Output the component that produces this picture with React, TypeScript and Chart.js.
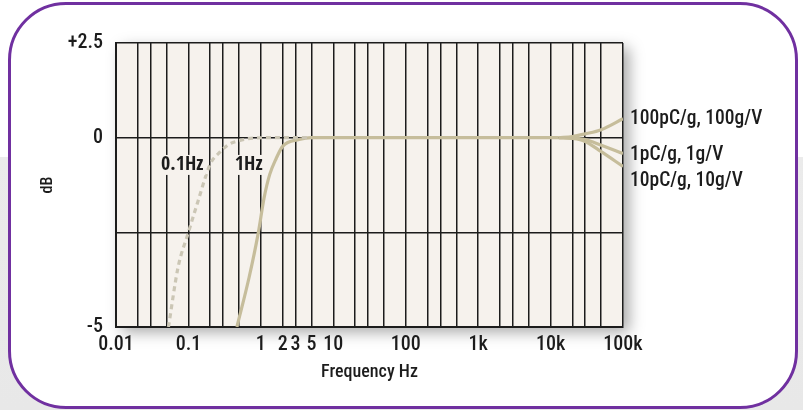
import React, { useEffect, useRef } from 'react';
import { Chart, registerables } from 'chart.js';

Chart.register(...registerables);

const FONT = "'Roboto Condensed', 'Open Sans', sans-serif";
const BOLD_FONT = "'Open Sans Condensed', 'Roboto Condensed', sans-serif";
const INK = '#1c1c1c';

// X axis: log grid lines (1, 2, 3, 5 per decade) and labelled ticks
const xGridValues = [
  0.01, 0.02, 0.03, 0.05, 0.1, 0.2, 0.3, 0.5, 1, 2, 3, 5, 10, 20, 30, 50, 100, 200, 300, 500,
  1000, 2000, 3000, 5000, 10000, 20000, 30000, 50000, 100000,
];
const xLabeledValues = [0.01, 0.1, 1, 2, 3, 5, 10, 100, 1000, 10000, 100000];
const xLabelTexts = ['0.01', '0.1', '1', '2', '3', '5', '10', '100', '1k', '10k', '100k'];

// Y axis
const yTickValues = [-5, -2.5, 0, 2.5];
const yTickLabels = ['-5', '', '0', '+2.5'];

// 0.1 Hz low-frequency cutoff (dashed)
const dashedFreq = [0.053, 0.072, 0.1, 0.136, 0.2, 0.276, 0.36, 0.5, 0.8, 1.5, 5];
const dashedDb = [-5, -3.42, -2.5, -1.67, -0.7, -0.37, -0.18, -0.08, -0.01, 0, 0];

// 1 Hz low-frequency cutoff (solid), flat through the mid band
const solidFreq = [0.467, 0.69, 0.92, 1.108, 1.326, 1.628, 2, 3.37, 5, 100, 13000];
const solidDb = [-5, -3.68, -2.52, -1.59, -0.97, -0.55, -0.23, -0.05, 0, 0, 0];

// High-frequency branches for each sensitivity
const branchFreq = [13000, 20000, 30000, 50000, 100000];
const branch100Db = [0, 0.03, 0.1, 0.21, 0.5];
const branch1Db = [0, -0.01, -0.05, -0.2, -0.42];
const branch10Db = [0, -0.02, -0.1, -0.37, -0.76];

const seriesLabels = ['100pC/g, 100g/V', '1pC/g, 1g/V', '10pC/g, 10g/V'];
const seriesLabelDb = [0.5, -0.45, -1.15];

const cutoffLabels = ['0.1Hz', '1Hz'];
const cutoffLabelFreq = [0.082, 0.68];
const cutoffLabelDb = [-0.72, -0.72];

const toPoints = (xs: number[], ys: number[]) => xs.map((x, i) => ({ x, y: ys[i] }));

const PLOT_BG = '#f6f2ed';
const CURVE = '#c6bd9b';
const CURVE_DASH = '#cbc6b5';

const decorPlugin = {
  id: 'decor',
  beforeDraw(chart: any) {
    const { ctx, chartArea: a } = chart;
    ctx.save();
    ctx.shadowColor = 'rgba(0,0,0,0.35)';
    ctx.shadowBlur = 14;
    ctx.shadowOffsetX = 6;
    ctx.shadowOffsetY = 5;
    ctx.fillStyle = PLOT_BG;
    ctx.fillRect(a.left, a.top, a.right - a.left, a.bottom - a.top);
    ctx.restore();
  },
  afterDatasetsDraw(chart: any) {
    const { ctx, scales } = chart;
    ctx.save();
    ctx.font = `bold 20px ${BOLD_FONT}`;
    ctx.textAlign = 'center';
    ctx.textBaseline = 'middle';
    cutoffLabels.forEach((t, i) => {
      const x = scales.x.getPixelForValue(cutoffLabelFreq[i]);
      const y = scales.y.getPixelForValue(cutoffLabelDb[i]);
      const w = ctx.measureText(t).width;
      ctx.fillStyle = PLOT_BG;
      ctx.fillRect(x - w / 2 - 2, y - 10, w + 4, 20);
      ctx.fillStyle = INK;
      ctx.fillText(t, x, y);
    });
    ctx.restore();
  },
  afterDraw(chart: any) {
    const { ctx, scales, chartArea: a } = chart;
    ctx.save();
    ctx.font = `500 19.5px ${FONT}`;
    ctx.textAlign = 'left';
    ctx.textBaseline = 'middle';
    ctx.fillStyle = INK;
    seriesLabels.forEach((t, i) => {
      ctx.fillText(t, a.right + 7, scales.y.getPixelForValue(seriesLabelDb[i]));
    });
    ctx.restore();
  },
};

export default function App() {
  const ref = useRef<HTMLCanvasElement | null>(null);

  useEffect(() => {
    if (!ref.current) return;
    const lineBase = {
      pointRadius: 0,
      borderWidth: 3.2,
      fill: false,
      cubicInterpolationMode: 'monotone' as const,
    };
    const chart = new Chart(ref.current, {
      type: 'line',
      data: {
        datasets: [
          { ...lineBase, label: '0.1Hz', data: toPoints(dashedFreq, dashedDb), borderColor: CURVE_DASH, borderDash: [5, 4] },
          { ...lineBase, label: '1Hz', data: toPoints(solidFreq, solidDb), borderColor: CURVE },
          { ...lineBase, label: seriesLabels[0], data: toPoints(branchFreq, branch100Db), borderColor: CURVE },
          { ...lineBase, label: seriesLabels[1], data: toPoints(branchFreq, branch1Db), borderColor: CURVE },
          { ...lineBase, label: seriesLabels[2], data: toPoints(branchFreq, branch10Db), borderColor: CURVE },
        ],
      },
      options: {
        responsive: false,
        animation: false,
        devicePixelRatio: window.devicePixelRatio || 1,
        layout: { padding: { left: 38, right: 180, top: 43, bottom: 0 } },
        plugins: { legend: { display: false }, tooltip: { enabled: false } },
        scales: {
          x: {
            type: 'logarithmic',
            min: 0.01,
            max: 100000,
            afterBuildTicks: (s: any) => {
              s.ticks = xGridValues.map((v) => ({ value: v }));
            },
            afterFit: (s: any) => {
              s.height = 83;
            },
            grid: { color: INK, lineWidth: 1.5, drawTicks: false },
            border: { display: true, color: INK, width: 2 },
            ticks: {
              autoSkip: false,
              maxRotation: 0,
              minRotation: 0,
              padding: 6,
              color: INK,
              font: { family: FONT, size: 20, weight: '500' },
              callback: (value: any) => {
                const v = Number(value);
                const idx = xLabeledValues.findIndex((t) => Math.abs(v - t) / t < 1e-6);
                return idx >= 0 ? xLabelTexts[idx] : '';
              },
            },
            title: {
              display: true,
              text: 'Frequency Hz',
              color: INK,
              font: { family: FONT, size: 18, weight: '500' },
              padding: { top: 0, bottom: 27 },
            },
          },
          y: {
            type: 'linear',
            min: -5,
            max: 2.5,
            afterBuildTicks: (s: any) => {
              s.ticks = yTickValues.map((v) => ({ value: v }));
            },
            afterFit: (s: any) => {
              s.width = 78;
            },
            grid: { color: INK, lineWidth: 1.5, drawTicks: false },
            border: { display: true, color: INK, width: 2 },
            ticks: {
              padding: 13,
              color: INK,
              font: { family: FONT, size: 20, weight: '500' },
              callback: (value: any) => {
                const idx = yTickValues.indexOf(Number(value));
                return idx >= 0 ? yTickLabels[idx] : '';
              },
            },
            title: {
              display: true,
              text: 'dB',
              color: INK,
              font: { family: FONT, size: 16, weight: '500' },
              padding: 0,
            },
          },
        },
      },
      plugins: [decorPlugin],
    });
    return () => chart.destroy();
  }, []);

  return (
    <div
      style={{
        position: 'fixed',
        left: 0,
        top: 0,
        width: 803,
        height: 410,
        background: 'linear-gradient(#ffffff 0px, #ffffff 157px, #ebebeb 157px, #e8e8e8 410px)',
        overflow: 'hidden',
      }}
    >
      <div
        style={{
          position: 'absolute',
          left: 8,
          top: 2,
          width: 790,
          height: 407,
          boxSizing: 'border-box',
          border: '3px solid #7030a0',
          borderRadius: 58,
          background: '#ffffff',
        }}
      />
      <canvas
        ref={ref}
        width={803}
        height={410}
        style={{ position: 'absolute', left: 0, top: 0, width: 803, height: 410 }}
      />
    </div>
  );
}
